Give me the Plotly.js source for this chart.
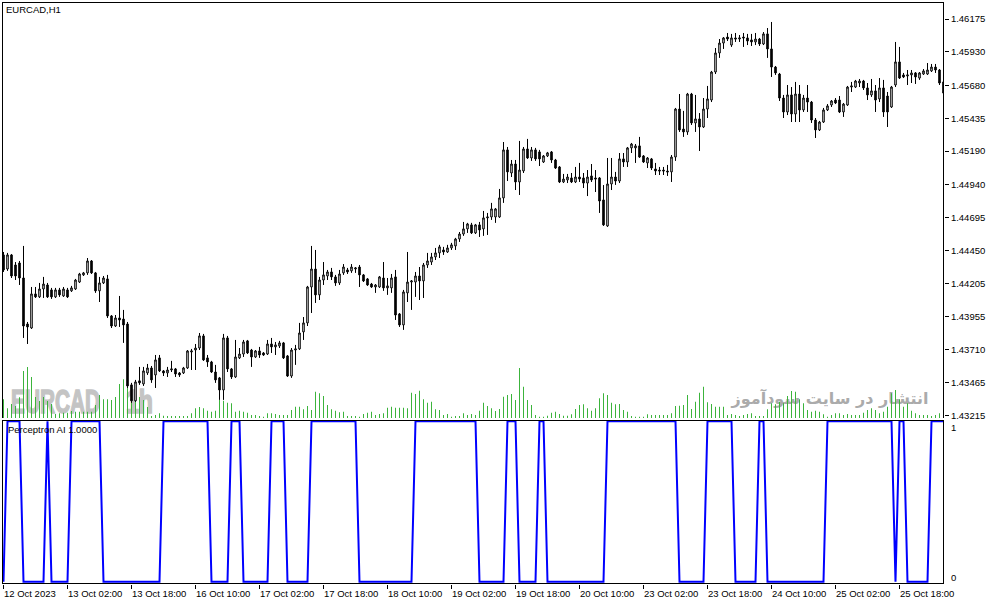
<!DOCTYPE html>
<html>
<head>
<meta charset="utf-8">
<script src="https://cdn.plot.ly/plotly-3.0.1.min.js"></script>
<style>html,body{margin:0;padding:0;background:#fff;}#chart{width:991px;height:605px;}</style>
</head>
<body>
<div id="chart"></div>
<script>
// EURCAD H1 candles (bar index 0 = 12 Oct 2023)
const open = [1.44416,1.44311,1.44416,1.44341,1.44356,1.44244,1.43901,1.43871,1.44125,1.44103,1.44162,1.44192,1.44155,1.44103,1.44155,1.44110,1.44155,1.44148,1.44162,1.44214,1.44267,1.44282,1.44371,1.44282,1.44148,1.44207,1.44237,1.43961,1.43886,1.43946,1.43938,1.43901,1.43447,1.43328,1.43477,1.43454,1.43536,1.43573,1.43521,1.43648,1.43551,1.43536,1.43558,1.43566,1.43536,1.43536,1.43573,1.43692,1.43707,1.43722,1.43812,1.43648,1.43618,1.43543,1.43499,1.43409,1.43797,1.43566,1.43506,1.43648,1.43677,1.43775,1.43707,1.43655,1.43700,1.43685,1.43677,1.43752,1.43730,1.43737,1.43760,1.43663,1.43513,1.43707,1.43715,1.43842,1.43909,1.44177,1.44311,1.44118,1.44229,1.44259,1.44289,1.44252,1.44207,1.44282,1.44304,1.44297,1.44311,1.44326,1.44267,1.44237,1.44199,1.44177,1.44177,1.44244,1.44170,1.44170,1.44252,1.43976,1.43894,1.44133,1.44214,1.44214,1.44259,1.44222,1.44341,1.44363,1.44401,1.44431,1.44453,1.44438,1.44468,1.44483,1.44535,1.44572,1.44610,1.44640,1.44580,1.44640,1.44610,1.44692,1.44699,1.44699,1.44699,1.44841,1.45199,1.45027,1.45094,1.44960,1.45042,1.45206,1.45139,1.45199,1.45184,1.45109,1.45154,1.45184,1.45124,1.45072,1.44960,1.44975,1.44990,1.44960,1.44997,1.44990,1.44952,1.45005,1.44990,1.44990,1.44826,1.44632,1.44945,1.44997,1.44967,1.45132,1.45109,1.45214,1.45214,1.45229,1.45154,1.45102,1.45132,1.45057,1.45049,1.45049,1.45042,1.45035,1.45146,1.45504,1.45355,1.45333,1.45616,1.45400,1.45430,1.45370,1.45504,1.45571,1.45780,1.45922,1.45996,1.46041,1.45981,1.46034,1.46026,1.46041,1.46034,1.46019,1.46004,1.46026,1.45989,1.46064,1.45952,1.45817,1.45765,1.45586,1.45482,1.45609,1.45467,1.45616,1.45497,1.45586,1.45556,1.45422,1.45348,1.45407,1.45497,1.45534,1.45571,1.45571,1.45482,1.45534,1.45668,1.45668,1.45698,1.45713,1.45661,1.45609,1.45639,1.45579,1.45661,1.45601,1.45519,1.45683,1.45855,1.45758,1.45750,1.45758,1.45773,1.45735,1.45765,1.45765,1.45788,1.45817,1.45795,1.45706];
const high = [1.44438,1.44431,1.44423,1.44363,1.44371,1.44483,1.43916,1.44177,1.44177,1.44207,1.44252,1.44207,1.44170,1.44170,1.44170,1.44177,1.44170,1.44185,1.44237,1.44282,1.44289,1.44393,1.44378,1.44289,1.44252,1.44259,1.44267,1.43968,1.43968,1.44110,1.44006,1.43916,1.43462,1.43484,1.43581,1.43581,1.43603,1.43588,1.43670,1.43670,1.43558,1.43581,1.43626,1.43573,1.43543,1.43581,1.43707,1.43715,1.43752,1.43834,1.43827,1.43670,1.43626,1.43596,1.43506,1.43827,1.43812,1.43573,1.43782,1.43722,1.43782,1.43782,1.43715,1.43707,1.43730,1.43692,1.43782,1.43797,1.43767,1.43775,1.43767,1.43670,1.43722,1.43745,1.43909,1.43953,1.44185,1.44483,1.44453,1.44252,1.44363,1.44304,1.44319,1.44267,1.44304,1.44348,1.44319,1.44348,1.44326,1.44341,1.44274,1.44244,1.44207,1.44199,1.44259,1.44363,1.44244,1.44274,1.44304,1.43983,1.44155,1.44438,1.44229,1.44289,1.44326,1.44356,1.44431,1.44431,1.44468,1.44491,1.44476,1.44491,1.44506,1.44543,1.44587,1.44662,1.44655,1.44655,1.44647,1.44662,1.44744,1.44729,1.44804,1.44766,1.44908,1.45258,1.45221,1.45124,1.45124,1.45266,1.45221,1.45281,1.45221,1.45214,1.45199,1.45161,1.45184,1.45191,1.45132,1.45079,1.45020,1.45020,1.45027,1.45072,1.45102,1.45027,1.45049,1.45094,1.45049,1.44997,1.44937,1.45139,1.45139,1.45035,1.45176,1.45176,1.45221,1.45251,1.45243,1.45296,1.45161,1.45146,1.45139,1.45102,1.45072,1.45072,1.45087,1.45161,1.45512,1.45616,1.45490,1.45624,1.45624,1.45609,1.45474,1.45586,1.45676,1.45788,1.45959,1.46026,1.46041,1.46071,1.46064,1.46071,1.46056,1.46071,1.46064,1.46064,1.46071,1.46034,1.46078,1.46108,1.46153,1.45825,1.45773,1.45609,1.45683,1.45668,1.45706,1.45683,1.45609,1.45683,1.45564,1.45437,1.45415,1.45512,1.45541,1.45571,1.45586,1.45601,1.45549,1.45676,1.45706,1.45721,1.45728,1.45721,1.45698,1.45728,1.45683,1.45735,1.45721,1.45631,1.45676,1.46004,1.45967,1.45773,1.45795,1.45795,1.45780,1.45780,1.45802,1.45847,1.45840,1.45840,1.45802,1.45728];
const low = [1.44289,1.44297,1.44244,1.44229,1.44192,1.43797,1.43752,1.43864,1.44095,1.44095,1.44095,1.44095,1.44088,1.44095,1.44103,1.44103,1.44095,1.44140,1.44155,1.44207,1.44259,1.44267,1.44274,1.44133,1.44065,1.44199,1.43946,1.43871,1.43879,1.43879,1.43760,1.43424,1.43313,1.43320,1.43447,1.43439,1.43521,1.43462,1.43424,1.43543,1.43513,1.43506,1.43543,1.43506,1.43506,1.43528,1.43566,1.43558,1.43558,1.43707,1.43626,1.43581,1.43536,1.43462,1.43335,1.43335,1.43543,1.43491,1.43499,1.43640,1.43655,1.43677,1.43581,1.43648,1.43648,1.43663,1.43670,1.43685,1.43670,1.43722,1.43640,1.43506,1.43499,1.43596,1.43707,1.43782,1.43886,1.43983,1.44058,1.44080,1.44192,1.44229,1.44229,1.44185,1.44192,1.44267,1.44274,1.44282,1.44282,1.44177,1.44214,1.44185,1.44170,1.44133,1.44170,1.44148,1.44118,1.44133,1.43931,1.43879,1.43857,1.44065,1.44006,1.44103,1.44080,1.44095,1.44319,1.44341,1.44378,1.44393,1.44416,1.44431,1.44453,1.44453,1.44513,1.44558,1.44580,1.44572,1.44572,1.44550,1.44558,1.44565,1.44677,1.44655,1.44692,1.44804,1.44967,1.44997,1.44900,1.44863,1.45027,1.45132,1.45117,1.45117,1.45079,1.45102,1.45146,1.45102,1.45057,1.44952,1.44952,1.44952,1.44952,1.44952,1.44960,1.44915,1.44855,1.44960,1.44885,1.44729,1.44632,1.44625,1.44900,1.44938,1.44952,1.45072,1.45072,1.45176,1.45102,1.45139,1.45102,1.45064,1.45049,1.45012,1.45012,1.45012,1.45005,1.44960,1.45117,1.45333,1.45296,1.45311,1.45385,1.45333,1.45191,1.45363,1.45437,1.45556,1.45765,1.45885,1.45952,1.46011,1.45967,1.46004,1.46004,1.45967,1.45981,1.45974,1.45981,1.45974,1.45981,1.45885,1.45743,1.45758,1.45564,1.45437,1.45459,1.45407,1.45407,1.45407,1.45482,1.45482,1.45400,1.45288,1.45340,1.45400,1.45489,1.45519,1.45541,1.45474,1.45445,1.45527,1.45631,1.45661,1.45668,1.45646,1.45571,1.45594,1.45482,1.45556,1.45445,1.45370,1.45512,1.45668,1.45728,1.45735,1.45683,1.45698,1.45691,1.45721,1.45758,1.45758,1.45780,1.45773,1.45683,1.45609];
const close = [1.44304,1.44416,1.44259,1.44259,1.44244,1.43886,1.43879,1.44125,1.44103,1.44162,1.44199,1.44103,1.44103,1.44155,1.44118,1.44162,1.44103,1.44170,1.44229,1.44274,1.44282,1.44371,1.44282,1.44148,1.44207,1.44244,1.43961,1.43886,1.43946,1.43931,1.43894,1.43439,1.43328,1.43469,1.43462,1.43551,1.43573,1.43484,1.43633,1.43551,1.43536,1.43558,1.43566,1.43528,1.43521,1.43573,1.43700,1.43700,1.43722,1.43812,1.43633,1.43618,1.43543,1.43484,1.43409,1.43797,1.43566,1.43506,1.43655,1.43677,1.43767,1.43685,1.43655,1.43700,1.43670,1.43670,1.43752,1.43730,1.43745,1.43760,1.43648,1.43513,1.43707,1.43715,1.43834,1.43909,1.44177,1.44311,1.44118,1.44229,1.44267,1.44289,1.44252,1.44207,1.44274,1.44326,1.44289,1.44326,1.44319,1.44267,1.44222,1.44192,1.44177,1.44192,1.44252,1.44170,1.44185,1.44244,1.43968,1.43894,1.44140,1.44214,1.44222,1.44259,1.44222,1.44341,1.44371,1.44401,1.44431,1.44476,1.44438,1.44468,1.44491,1.44535,1.44572,1.44610,1.44647,1.44580,1.44640,1.44602,1.44692,1.44699,1.44759,1.44759,1.44841,1.45199,1.45035,1.45094,1.44960,1.45049,1.45206,1.45139,1.45199,1.45132,1.45132,1.45154,1.45177,1.45124,1.45064,1.44960,1.44982,1.44997,1.44960,1.44997,1.44982,1.44952,1.44997,1.44975,1.44982,1.44818,1.44640,1.44945,1.44997,1.44967,1.45132,1.45109,1.45214,1.45243,1.45229,1.45146,1.45109,1.45139,1.45064,1.45042,1.45042,1.45042,1.45035,1.45146,1.45504,1.45348,1.45333,1.45616,1.45400,1.45430,1.45370,1.45504,1.45579,1.45780,1.45922,1.45996,1.46034,1.46026,1.46034,1.46026,1.46034,1.46034,1.46011,1.46004,1.46026,1.45989,1.46064,1.45952,1.45817,1.45773,1.45586,1.45482,1.45609,1.45467,1.45616,1.45497,1.45586,1.45556,1.45422,1.45348,1.45407,1.45497,1.45527,1.45564,1.45549,1.45482,1.45541,1.45668,1.45676,1.45713,1.45713,1.45661,1.45609,1.45639,1.45571,1.45661,1.45482,1.45482,1.45668,1.45855,1.45735,1.45743,1.45758,1.45773,1.45743,1.45773,1.45788,1.45795,1.45817,1.45795,1.45698,1.45623];
// tick volume per bar
const volume = [748,388,560,480,828,1880,2040,1640,840,680,840,680,560,160,188,212,212,280,252,252,252,252,252,520,920,748,748,720,840,1360,1548,1228,1000,920,840,720,440,80,120,188,92,80,80,80,80,80,80,188,388,440,388,292,252,292,720,692,612,588,252,292,252,212,120,120,80,52,188,188,160,120,120,120,320,452,452,348,480,320,1052,988,880,520,348,292,228,252,80,80,80,52,160,212,252,120,160,188,412,452,412,412,412,388,1012,960,1092,748,612,652,348,320,120,160,52,80,80,188,120,160,120,292,612,480,388,280,360,852,920,960,720,2000,1252,720,520,120,52,52,92,212,252,160,92,92,148,360,520,548,388,292,388,788,988,920,612,548,560,320,252,80,52,52,52,148,120,120,120,120,120,188,480,492,520,920,360,652,1012,1252,628,560,452,452,452,120,160,120,80,120,160,188,80,80,80,348,588,548,652,588,880,1080,1052,748,588,320,252,292,252,148,52,120,188,188,120,160,120,120,120,212,320,388,320,188,252,452,988,1120,748,452,588,292,188,120,120,120,80,120,188,160];
// Perceptron AI output (0 / 1)
const signal = [0,1,1,1,1,0,0,0,0,0,0,1,0,0,0,0,0,1,1,1,1,1,1,1,1,0,0,0,0,0,0,0,0,0,0,0,0,0,0,0,1,1,1,1,1,1,1,1,1,1,1,1,0,0,0,0,0,1,1,1,0,0,0,0,0,0,0,1,1,1,1,0,0,0,0,0,0,1,1,1,1,1,1,1,1,1,1,1,1,0,0,0,0,0,0,0,0,0,0,0,0,0,0,1,1,1,1,1,1,1,1,1,1,1,1,1,1,1,1,0,0,0,0,0,0,0,1,1,1,0,0,0,0,0,1,1,0,0,0,0,0,0,0,0,0,0,0,0,0,0,0,1,1,1,1,1,1,1,1,1,1,1,1,1,1,1,1,1,1,0,0,0,0,0,0,0,1,1,1,1,1,1,1,0,0,0,0,0,0,1,1,0,0,0,0,0,0,0,0,0,0,0,0,0,0,0,1,1,1,1,1,1,1,1,1,1,1,1,1,1,1,1,1,0,1,1,0,0,0,0,0,0,1,1,1,1];
// time axis labels
const tickBars = [0,16,32,48,64,80,96,112,128,144,160,176,192,208,224];
const tickLabels = ['12 Oct 2023','13 Oct 02:00','13 Oct 18:00','16 Oct 10:00','17 Oct 02:00','17 Oct 18:00','18 Oct 10:00','19 Oct 02:00','19 Oct 18:00','20 Oct 10:00','23 Oct 02:00','23 Oct 18:00','24 Oct 10:00','25 Oct 02:00','25 Oct 18:00'];
// price axis labels
const priceTicks = [1.46175,1.45930,1.45680,1.45435,1.45190,1.44940,1.44695,1.44450,1.44205,1.43955,1.43710,1.43465,1.43215];
const priceLabels = ['1.46175','1.45930','1.45680','1.45435','1.45190','1.44940','1.44695','1.44450','1.44205','1.43955','1.43710','1.43465','1.43215'];

const xs = close.map((_, i) => i);
const FONT = 'Liberation Sans, Arial, sans-serif';
const PW = 942, PH = 582;          // plot area size in px
const px = v => v / PW;            // px -> paper x (from plot left)
const py = v => (584 - v) / PH;    // page y px -> paper y

const traces = [
  {type:'bar', x:xs, y:volume, xaxis:'x', yaxis:'y', width:0.25,
   marker:{color:'#3cb43c', line:{width:0}}, hoverinfo:'skip'},
  {type:'candlestick', x:xs, open:open, high:high, low:low, close:close, xaxis:'x', yaxis:'y3',
   whiskerwidth:0,
   increasing:{line:{color:'#000000', width:1}, fillcolor:'#ffffff'},
   decreasing:{line:{color:'#000000', width:1}, fillcolor:'#000000'},
   hoverinfo:'skip'},
  {type:'scatter', mode:'lines', x:xs, y:signal, xaxis:'x', yaxis:'y2',
   line:{color:'#0000ff', width:2}, hoverinfo:'skip'}
];

const mainDom = [166/582, 1];
const indDom = [0, 164/582];

const annotations = tickLabels.map((t, k) => ({
  text:t, x:tickBars[k], xref:'x', y:py(593), yref:'paper', xanchor:'left', yanchor:'middle',
  showarrow:false, xshift:-2, font:{family:FONT, size:9.5, color:'#000'}
}));
annotations.push({text:'EURCAD,H1', x:px(2), xref:'paper', y:py(10), yref:'paper',
  xanchor:'left', yanchor:'middle', showarrow:false, font:{family:FONT, size:9.5, color:'#000'}});
annotations.push({text:'Perceptron AI 1.0000', x:px(4), xref:'paper', y:py(429.5), yref:'paper',
  xanchor:'left', yanchor:'middle', showarrow:false, font:{family:FONT, size:9.5, color:'#000'}});
annotations.push({text:'1', x:1+px(5), xref:'paper', y:py(427.5), yref:'paper',
  xanchor:'left', yanchor:'middle', showarrow:false, font:{family:FONT, size:9.5, color:'#000'}});
annotations.push({text:'0', x:1+px(5), xref:'paper', y:py(577.5), yref:'paper',
  xanchor:'left', yanchor:'middle', showarrow:false, font:{family:FONT, size:9.5, color:'#000'}});

const WM = {family:'Liberation Sans, Arial, sans-serif', size:33, weight:700, color:'#c4c4c4'};
const black = {color:'#000', width:1};
const shapes = [
  {type:'rect', xref:'paper', yref:'paper', x0:px(6), x1:px(110), y0:py(412), y1:py(384),
   line:{width:0}, fillcolor:'rgba(0,0,0,0)', layer:'below',
   label:{text:'EURCAD', textposition:'middle left', padding:0, font:WM}},
  {type:'rect', xref:'paper', yref:'paper', x0:px(121), x1:px(165), y0:py(412), y1:py(384),
   line:{width:0}, fillcolor:'rgba(0,0,0,0)', layer:'below',
   label:{text:'1h', textposition:'middle left', padding:0, font:WM}},
  {type:'rect', xref:'paper', yref:'paper', x0:px(726), x1:px(930), y0:py(409), y1:py(386),
   line:{width:0}, fillcolor:'rgba(0,0,0,0)', layer:'below',
   label:{text:'انتشار در سایت سودآموز', textposition:'middle center', padding:0,
     font:{family:'DejaVu Sans, sans-serif', size:16, weight:700, color:'#ababab'}}},
  // frames (half-pixel positions for crisp 1px lines)
  {type:'line', xref:'paper', yref:'paper', x0:px(0.5), x1:px(0.5), y0:py(418), y1:py(2), line:black},
  {type:'line', xref:'paper', yref:'paper', x0:px(941.5), x1:px(941.5), y0:py(418), y1:py(2), line:black},
  {type:'line', xref:'paper', yref:'paper', x0:0, x1:1, y0:py(2.5), y1:py(2.5), line:black},
  {type:'line', xref:'paper', yref:'paper', x0:0, x1:1, y0:py(420.5), y1:py(420.5), line:black},
  {type:'line', xref:'paper', yref:'paper', x0:0, x1:1, y0:py(583.5), y1:py(583.5), line:black},
  {type:'line', xref:'paper', yref:'paper', x0:px(0.5), x1:px(0.5), y0:0, y1:py(420), line:black},
  {type:'line', xref:'paper', yref:'paper', x0:px(941.5), x1:px(941.5), y0:0, y1:py(420), line:black}
];

const layout = {
  width:991, height:605,
  margin:{l:2, r:47, t:2, b:21, pad:0},
  paper_bgcolor:'#ffffff', plot_bgcolor:'#ffffff',
  showlegend:false, dragmode:false, boxgap:0.45,
  xaxis:{range:[-0.375, 235.125], anchor:'y2', showgrid:false, zeroline:false, showline:false,
    ticks:'outside', ticklen:4, tickcolor:'#000', tickwidth:1, tickvals:tickBars, showticklabels:false,
    rangeslider:{visible:false}, fixedrange:true},
  yaxis:{domain:mainDom, range:[0, 16640], visible:false, fixedrange:true},
  yaxis3:{overlaying:'y', side:'right', anchor:'x', range:[1.43200, 1.46302],
    tickvals:priceTicks, ticktext:priceLabels, ticks:'outside', ticklen:4, tickcolor:'#000',
    showgrid:false, zeroline:false, showline:false,
    tickfont:{family:FONT, size:9.5, color:'#000'}, fixedrange:true},
  yaxis2:{domain:indDom, range:[-0.0143, 1.008], showgrid:false, zeroline:false, showline:false,
    showticklabels:false, ticks:'', fixedrange:true},
  annotations:annotations,
  shapes:shapes
};

// watermark glyphs are narrow and heavy in the original: squeeze them to their measured width
const squeeze = {'EURCAD': 89, '1h': 27};
Plotly.newPlot('chart', traces, layout, {staticPlot:true, displayModeBar:false}).then(() => {
  document.querySelectorAll('#chart svg text').forEach(t => {
    const w = squeeze[t.textContent];
    if (w) {
      t.setAttribute('textLength', w);
      t.setAttribute('lengthAdjust', 'spacingAndGlyphs');
      t.style.stroke = '#c4c4c4';
      t.style.strokeWidth = '1.6px';
      t.style.fontWeight = '700';
    }
  });
});
</script>
</body>
</html>
